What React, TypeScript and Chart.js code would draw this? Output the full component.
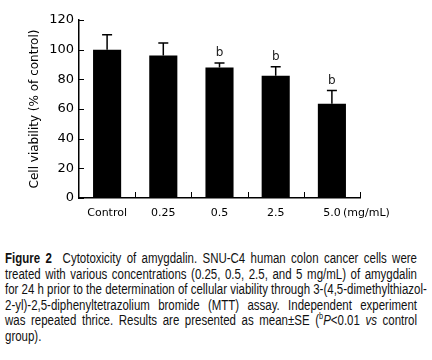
import React, { useEffect, useRef } from "react";
import { Chart, registerables } from "chart.js";

Chart.register(...registerables);

const categories = ["Control", "0.25", "0.5", "2.5", "5.0"];
const means = [100, 96, 88, 82.5, 63.5];
const errors = [10, 8.5, 3, 6, 9];
const sigMarks = ["", "", "b", "b", "b"];
const yTicks = [0, 20, 40, 60, 80, 100, 120];
const unitLabel = "(mg/mL)";
const yTitle = "Cell viability (% of control)";

const captionFont = '"Liberation Sans", Arial, sans-serif';
const narrow = 0.82;

const overlayPlugin = {
  id: "overlay",
  afterDatasetsDraw(chart: any) {
    const ctx = chart.ctx;
    const x = chart.scales.x;
    const y = chart.scales.y;
    const area = chart.chartArea;
    const meta = chart.getDatasetMeta(0);
    ctx.save();
    ctx.strokeStyle = "#000";
    ctx.lineWidth = 1.5;
    meta.data.forEach((bar: any, i: number) => {
      const yb = y.getPixelForValue(means[i]);
      const yt = y.getPixelForValue(means[i] + errors[i]);
      ctx.beginPath();
      ctx.moveTo(bar.x, yb);
      ctx.lineTo(bar.x, yt);
      ctx.moveTo(bar.x - 5, yt);
      ctx.lineTo(bar.x + 5, yt);
      ctx.stroke();
      if (sigMarks[i]) {
        ctx.fillStyle = "#222";
        ctx.font = '12px "DejaVu Sans"';
        ctx.textAlign = "center";
        ctx.textBaseline = "middle";
        ctx.fillText(sigMarks[i], bar.x, yt - 10);
      }
    });
    ctx.lineWidth = 1;
    yTicks.forEach((v) => {
      const py = Math.round(y.getPixelForValue(v)) + 0.5;
      ctx.beginPath();
      ctx.moveTo(area.left, py);
      ctx.lineTo(area.left + 5, py);
      ctx.stroke();
    });
    categories.forEach((_, i) => {
      const px = Math.round(x.getPixelForValue(i + 0.5)) + 0.5;
      ctx.beginPath();
      ctx.moveTo(px, area.bottom);
      ctx.lineTo(px, area.bottom - 6);
      ctx.stroke();
    });
    ctx.fillStyle = "#000";
    ctx.font = '11px "DejaVu Sans"';
    ctx.textAlign = "left";
    ctx.textBaseline = "middle";
    ctx.fillText(unitLabel, area.right - 17, area.bottom + 15);
    ctx.restore();
  },
};

function ChartBox() {
  const ref = useRef<HTMLCanvasElement | null>(null);
  useEffect(() => {
    if (!ref.current) return;
    const chart = new Chart(ref.current, {
      type: "bar",
      data: {
        labels: categories,
        datasets: [
          {
            data: means,
            backgroundColor: "#000",
            borderWidth: 0,
            categoryPercentage: 1,
            barPercentage: 0.5,
          },
        ],
      },
      options: {
        animation: false,
        responsive: false,
        maintainAspectRatio: false,
        layout: { padding: { left: 24, top: 20, right: 72, bottom: 0 } },
        plugins: { legend: { display: false }, tooltip: { enabled: false } },
        scales: {
          x: {
            grid: { display: false, drawTicks: false },
            border: { display: true, color: "#000", width: 1.5 },
            ticks: {
              color: "#000",
              font: { family: "DejaVu Sans", size: 11 },
              padding: 9,
              maxRotation: 0,
            },
            afterFit: (s: any) => {
              s.height = 34;
            },
          },
          y: {
            min: 0,
            max: 120,
            grid: { display: false, drawTicks: false },
            border: { display: true, color: "#000", width: 1.5 },
            ticks: {
              stepSize: 20,
              color: "#000",
              font: { family: "DejaVu Sans", size: 13 },
              padding: 5,
            },
            title: {
              display: true,
              text: yTitle,
              color: "#000",
              font: { family: "DejaVu Sans", size: 12 },
              padding: { top: 4, bottom: 0 },
            },
            afterFit: (s: any) => {
              s.width = 55;
            },
          },
        },
      },
      plugins: [overlayPlugin],
    });
    return () => chart.destroy();
  }, []);
  return <canvas ref={ref} width={432} height={232} style={{ display: "block" }} />;
}

const lineStyle: React.CSSProperties = {
  textAlign: "justify",
  textAlignLast: "justify",
  whiteSpace: "nowrap",
  height: 15.5,
  lineHeight: "15.5px",
};

export default function App() {
  return (
    <div style={{ position: "absolute", left: 0, top: 0, width: 432, height: 360, background: "#fff", overflow: "hidden" }}>
      <ChartBox />
      <div
        style={{
          position: "absolute",
          left: 5,
          top: 251,
          width: 412 / narrow,
          transform: `scaleX(${narrow})`,
          transformOrigin: "left top",
          fontFamily: captionFont,
          fontSize: 14,
          color: "#111",
        }}
      >
        <div style={lineStyle}>
          <b>Figure 2</b>&nbsp;&nbsp;Cytotoxicity of amygdalin. SNU-C4 human colon cancer cells were
        </div>
        <div style={lineStyle}>
          treated with various concentrations (0.25, 0.5, 2.5, and 5 mg/mL) of amygdalin
        </div>
        <div style={lineStyle}>
          for 24 h prior to the determination of cellular viability through 3-(4,5-dimethylthiazol-
        </div>
        <div style={lineStyle}>
          2-yl)-2,5-diphenyltetrazolium bromide (MTT) assay. Independent experiment
        </div>
        <div style={lineStyle}>
          was repeated thrice. Results are presented as mean±SE (<sup style={{ fontSize: 9, lineHeight: 0 }}>b</sup>
          <i>P</i>&lt;0.01 <i>vs</i> control
        </div>
        <div style={{ ...lineStyle, textAlign: "left", textAlignLast: "left" }}>group).</div>
      </div>
    </div>
  );
}
